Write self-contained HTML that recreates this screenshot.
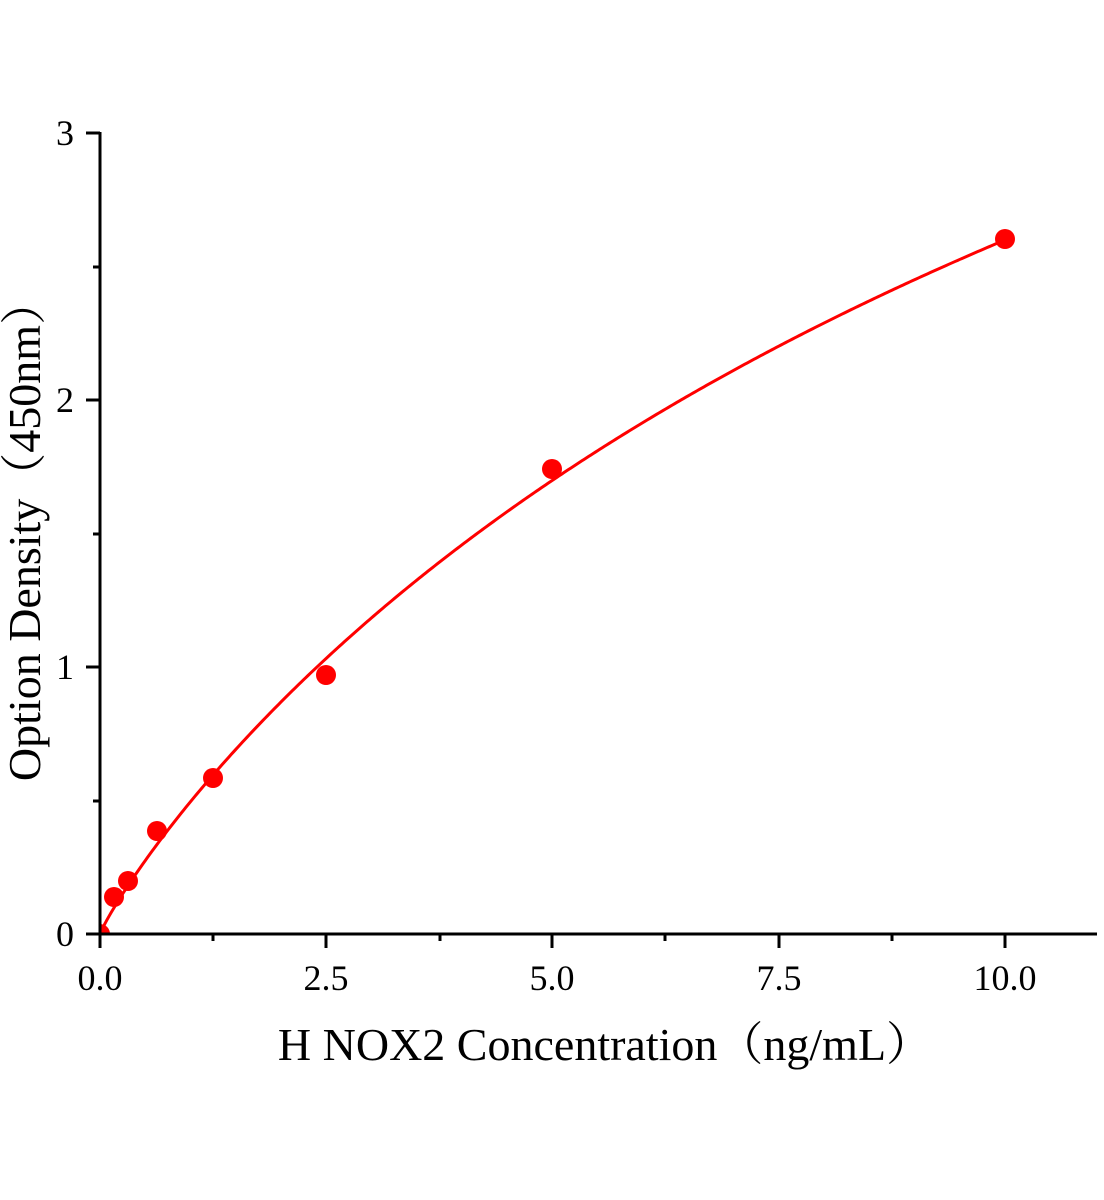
<!DOCTYPE html>
<html><head><meta charset="utf-8"><style>
html,body{margin:0;padding:0;background:#fff;}
svg{display:block;}
text{font-family:"Liberation Serif","Noto Serif CJK SC",serif;fill:#000;}
</style></head><body>
<svg width="1104" height="1200" viewBox="0 0 1104 1200" xmlns="http://www.w3.org/2000/svg">
<defs><clipPath id="c"><rect x="100" y="100" width="1000" height="834"/></clipPath></defs>
<g clip-path="url(#c)" fill="#f00">
<path id="curve" fill="none" stroke="#f00" stroke-width="3" d="M100,934"/>
<circle cx="100" cy="934" r="10"/>
<circle cx="114" cy="897" r="10"/>
<circle cx="128" cy="881" r="10"/>
<circle cx="157" cy="831" r="10"/>
<circle cx="213" cy="778" r="10"/>
<circle cx="326" cy="675" r="10"/>
<circle cx="552" cy="469" r="10"/>
<circle cx="1005" cy="239" r="10"/>
</g>
<g stroke="#000" stroke-width="3" fill="none">
<line x1="100" y1="132" x2="100" y2="935"/>
<line x1="86" y1="934" x2="1097" y2="934"/>
<line x1="86" y1="667" x2="100" y2="667"/>
<line x1="86" y1="400" x2="100" y2="400"/>
<line x1="86" y1="133" x2="100" y2="133"/>
<line x1="93" y1="801" x2="100" y2="801"/>
<line x1="93" y1="534" x2="100" y2="534"/>
<line x1="93" y1="267" x2="100" y2="267"/>
<line x1="100" y1="934" x2="100" y2="948"/>
<line x1="326" y1="934" x2="326" y2="948"/>
<line x1="552" y1="934" x2="552" y2="948"/>
<line x1="779" y1="934" x2="779" y2="948"/>
<line x1="1005" y1="934" x2="1005" y2="948"/>
<line x1="213" y1="934" x2="213" y2="941"/>
<line x1="440" y1="934" x2="440" y2="941"/>
<line x1="665" y1="934" x2="665" y2="941"/>
<line x1="892" y1="934" x2="892" y2="941"/>
</g>
<g font-size="36" text-anchor="end">
<text x="74" y="946">0</text>
<text x="74" y="679">1</text>
<text x="74" y="412">2</text>
<text x="74" y="145">3</text>
</g>
<g font-size="36" text-anchor="middle">
<text x="100" y="990">0.0</text>
<text x="326" y="990">2.5</text>
<text x="552" y="990">5.0</text>
<text x="779" y="990">7.5</text>
<text x="1005" y="990">10.0</text>
</g>
<text x="605" y="1060" font-size="46" text-anchor="middle">H NOX2 Concentration（ng/mL）</text>
<text transform="translate(40,530) rotate(-90)" font-size="46" text-anchor="middle">Option Density（450nm）</text>
</svg>
<script>
var d="M100,934";
for(var i=1;i<=400;i++){var x=10*i/400;var xb=Math.pow(x,0.9);var y=6.69*xb/(12.5+xb);
d+=" L"+(100+90.5*x).toFixed(2)+","+(934-267*y).toFixed(2);}
document.getElementById("curve").setAttribute("d",d);
</script>
</body></html>
